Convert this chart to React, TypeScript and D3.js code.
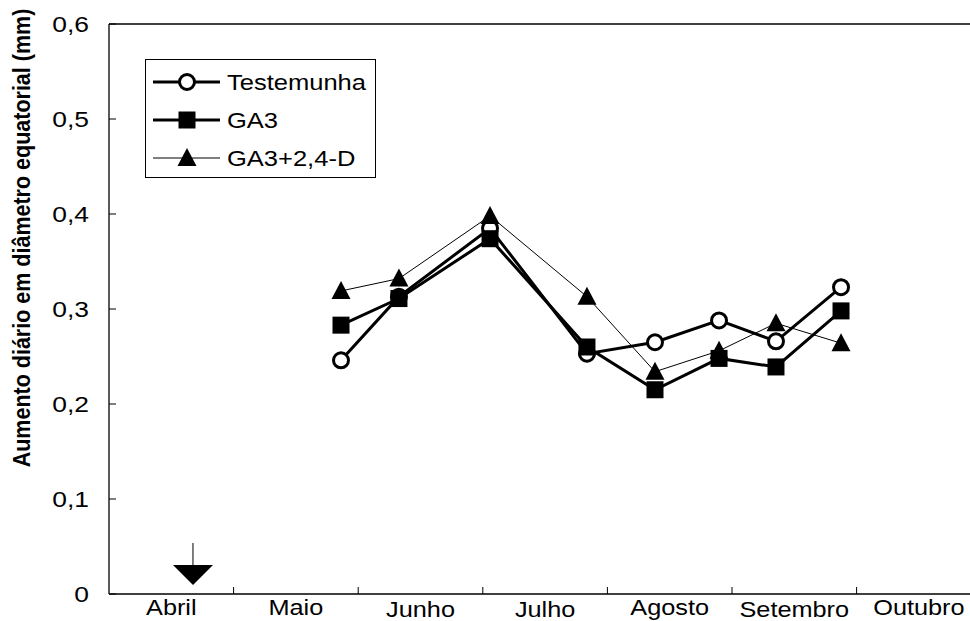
import React from "react";
import * as d3 from "d3";

// x positions expressed in months since 1 April (0 = start of Abril)
const sampleMonths = [1.862, 2.327, 3.058, 3.836, 4.382, 4.896, 5.353, 5.875];
const testemunha = [0.246, 0.313, 0.385, 0.253, 0.265, 0.288, 0.266, 0.323];
const ga3 = [0.283, 0.311, 0.374, 0.26, 0.215, 0.248, 0.239, 0.298];
const ga3d = [0.319, 0.332, 0.398, 0.313, 0.234, 0.256, 0.285, 0.264];
const months = ["Abril", "Maio", "Junho", "Julho", "Agosto", "Setembro", "Outubro"];
const monthLow = [false, false, true, true, false, true, false];
const yTicks = [0, 0.1, 0.2, 0.3, 0.4, 0.5, 0.6];
const arrowMonth = 0.674;
const seriesNames = ["Testemunha", "GA3", "GA3+2,4-D"];

const W = 970;
const H = 621;
const FONT = "'Liberation Sans', Arial, sans-serif";

function SText(props: {
  x: number;
  y: number;
  sx: number;
  anchor?: string;
  dy?: string;
  size: number;
  children: any;
}) {
  return (
    <text
      transform={`translate(${props.x},${props.y}) scale(${props.sx},1)`}
      textAnchor={props.anchor || "start"}
      dy={props.dy}
      fontSize={props.size}
    >
      {props.children}
    </text>
  );
}

export default function App() {
  const x = d3.scaleLinear().domain([0, 7]).range([109, 981.2]);
  const y = d3.scaleLinear().domain([0, 0.6]).range([594, 24]);
  const fmt = (v: number) => (v === 0 ? "0" : d3.format(".1f")(v).replace(".", ","));

  const line = d3
    .line<number>()
    .x((_, i) => x(sampleMonths[i]))
    .y((d) => y(d));

  const series = [
    { name: seriesNames[0], values: testemunha, marker: "circle", width: 3 },
    { name: seriesNames[1], values: ga3, marker: "square", width: 3 },
    { name: seriesNames[2], values: ga3d, marker: "triangle", width: 1 },
  ];

  const marker = (type: string, cx: number, cy: number, key: any) => {
    if (type === "circle")
      return <circle key={key} cx={cx} cy={cy} r={7.5} fill="#fff" stroke="#000" strokeWidth={3} />;
    if (type === "square")
      return <rect key={key} x={cx - 8.5} y={cy - 8.5} width={17} height={17} fill="#000" />;
    return (
      <path
        key={key}
        d={`M${cx},${cy - 10} L${cx + 9.5},${cy + 8} L${cx - 9.5},${cy + 8} Z`}
        fill="#000"
      />
    );
  };

  const ax = x(arrowMonth);

  return (
    <svg
      width={W}
      height={H}
      style={{ position: "absolute", left: 0, top: 0, background: "#fff" }}
      fontFamily={FONT}
    >
      <rect x={0} y={0} width={W} height={H} fill="#fff" />
      {/* frame */}
      <line x1={x(0)} x2={x(7)} y1={y(0.6)} y2={y(0.6)} stroke="#000" strokeWidth={1.3} />
      <line x1={x(0)} x2={x(0)} y1={y(0.6)} y2={y(0)} stroke="#000" strokeWidth={1.3} />
      <line x1={x(0)} x2={x(7)} y1={y(0)} y2={y(0)} stroke="#000" strokeWidth={1.3} />
      {/* y ticks */}
      {yTicks.map((t) => (
        <g key={t}>
          <line x1={x(0)} x2={x(0) + 7} y1={y(t)} y2={y(t)} stroke="#000" strokeWidth={1} />
          <SText x={89} y={y(t)} dy="0.36em" anchor="end" size={22} sx={1.2}>
            {fmt(t)}
          </SText>
        </g>
      ))}
      {/* x ticks */}
      {d3.range(1, 7).map((m) => (
        <line key={m} x1={x(m)} x2={x(m)} y1={y(0)} y2={y(0) - 7} stroke="#000" strokeWidth={1} />
      ))}
      {months.map((m, i) => (
        <SText
          key={m}
          x={x(i + 0.5)}
          y={monthLow[i] ? 616.5 : 614.5}
          anchor="middle"
          size={22}
          sx={1.15}
        >
          {m}
        </SText>
      ))}
      {/* y label */}
      <text
        transform={`translate(30,238) rotate(-90) scale(1,1.1)`}
        textAnchor="middle"
        fontSize={21.5}
        fontWeight="bold"
      >
        Aumento diário em diâmetro equatorial (mm)
      </text>
      {/* arrow */}
      <line x1={ax} x2={ax} y1={543} y2={566} stroke="#000" strokeWidth={1} />
      <path d={`M${ax - 20},${565} L${ax + 20},${565} L${ax},${585} Z`} fill="#000" />
      {/* series */}
      {series.map((s) => (
        <g key={s.name}>
          <path d={line(s.values) || ""} fill="none" stroke="#000" strokeWidth={s.width} strokeLinejoin="miter" />
          {s.values.map((v, i) => marker(s.marker, x(sampleMonths[i]), y(v), i))}
        </g>
      ))}
      {/* legend */}
      <rect x={145.5} y={59.5} width={230} height={118} fill="#fff" stroke="#000" strokeWidth={1} />
      {series.map((s, i) => {
        const cy = 82 + i * 38;
        return (
          <g key={s.name}>
            <line x1={153} x2={220} y1={cy} y2={cy} stroke="#000" strokeWidth={s.width} />
            {marker(s.marker, 187, cy, "m")}
            <SText x={227} y={cy} dy="0.36em" size={22} sx={1.16}>
              {s.name}
            </SText>
          </g>
        );
      })}
    </svg>
  );
}
